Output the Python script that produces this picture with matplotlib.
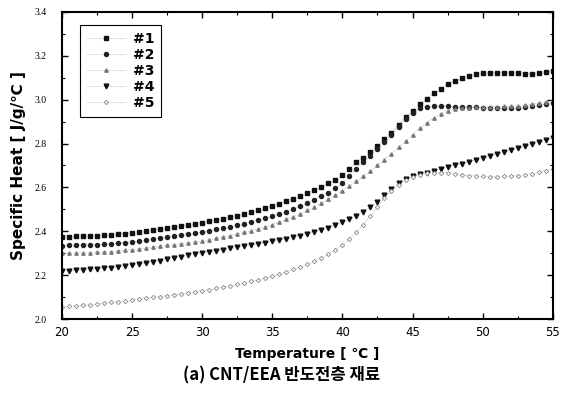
import numpy as np
import matplotlib
matplotlib.use('Agg')
import matplotlib.pyplot as plt
from matplotlib.ticker import MultipleLocator

# temperature grid, 0.5 C steps from 20 to 55
temp = np.arange(20.0, 55.01, 0.5)

s1 = [2.375, 2.376, 2.377, 2.378, 2.379, 2.380, 2.382, 2.384, 2.387, 2.390,
      2.394, 2.398, 2.402, 2.406, 2.410, 2.415, 2.420, 2.425, 2.430, 2.435,
      2.440, 2.446, 2.452, 2.458, 2.464, 2.470, 2.478, 2.486, 2.495, 2.505,
      2.515, 2.526, 2.537, 2.548, 2.560, 2.573, 2.587, 2.602, 2.618, 2.635,
      2.655, 2.685, 2.715, 2.735, 2.760, 2.790, 2.820, 2.850, 2.885, 2.920,
      2.950, 2.980, 3.005, 3.030, 3.050, 3.070, 3.085, 3.098, 3.108, 3.115,
      3.120, 3.122, 3.123, 3.123, 3.122, 3.120, 3.118, 3.118, 3.122, 3.126,
      3.130]
s2 = [2.335, 2.336, 2.337, 2.338, 2.339, 2.340, 2.342, 2.344, 2.346, 2.349,
      2.352, 2.356, 2.360, 2.364, 2.368, 2.372, 2.377, 2.382, 2.387, 2.392,
      2.397, 2.403, 2.409, 2.415, 2.421, 2.428, 2.435, 2.443, 2.451, 2.459,
      2.468, 2.478, 2.489, 2.501, 2.514, 2.528, 2.543, 2.559, 2.576, 2.596,
      2.620, 2.650, 2.685, 2.715, 2.745, 2.775, 2.805, 2.840, 2.875, 2.910,
      2.940, 2.960, 2.968, 2.970, 2.970, 2.969, 2.968, 2.967, 2.966, 2.965,
      2.963, 2.962, 2.961, 2.960, 2.960, 2.962, 2.965, 2.969, 2.974, 2.980,
      2.986]
s3 = [2.300, 2.300, 2.301, 2.302, 2.303, 2.304, 2.306, 2.308, 2.310, 2.313,
      2.316, 2.320, 2.324, 2.328, 2.332, 2.336, 2.340, 2.344, 2.348, 2.352,
      2.356, 2.362, 2.368, 2.374, 2.381, 2.388, 2.395, 2.403, 2.412, 2.421,
      2.431, 2.442, 2.454, 2.467, 2.480, 2.495, 2.511, 2.528, 2.546, 2.565,
      2.585, 2.606, 2.628, 2.651, 2.675, 2.700, 2.727, 2.754, 2.782, 2.810,
      2.840, 2.870, 2.895, 2.915, 2.935, 2.950, 2.958, 2.962, 2.964, 2.965,
      2.966, 2.967, 2.968, 2.969, 2.970, 2.972, 2.975, 2.979, 2.984, 2.990,
      2.997]
s4 = [2.220, 2.221, 2.223, 2.225, 2.227, 2.229, 2.232, 2.235, 2.238, 2.241,
      2.245, 2.250, 2.255, 2.260, 2.266, 2.272, 2.278, 2.284, 2.290, 2.296,
      2.302, 2.307, 2.312, 2.317, 2.322, 2.327, 2.332, 2.337, 2.342, 2.348,
      2.354, 2.360, 2.366, 2.373, 2.380, 2.388, 2.397, 2.406, 2.416, 2.428,
      2.441, 2.456, 2.472, 2.490, 2.510, 2.535, 2.565, 2.595, 2.620, 2.637,
      2.650, 2.660, 2.668, 2.676, 2.684, 2.692, 2.700, 2.708, 2.716, 2.724,
      2.733, 2.742, 2.751, 2.760, 2.769, 2.778, 2.787, 2.796, 2.806, 2.816,
      2.826]
s5 = [2.056, 2.058, 2.060, 2.063, 2.066, 2.069, 2.072, 2.076, 2.079, 2.083,
      2.087, 2.091, 2.095, 2.099, 2.103, 2.107, 2.111, 2.115, 2.120, 2.125,
      2.130, 2.135, 2.140, 2.146, 2.152, 2.158, 2.165, 2.172, 2.179, 2.187,
      2.196, 2.206, 2.216, 2.227, 2.238, 2.250, 2.263, 2.278, 2.295, 2.315,
      2.338, 2.365, 2.395, 2.430, 2.470, 2.510, 2.550, 2.585, 2.612, 2.632,
      2.647, 2.658, 2.665, 2.668, 2.668, 2.665, 2.661, 2.657, 2.654, 2.652,
      2.650, 2.649, 2.649, 2.650, 2.651, 2.654, 2.658, 2.663, 2.669, 2.677,
      2.686]

labels = ['#1', '#2', '#3', '#4', '#5']
series = [s1, s2, s3, s4, s5]
styles = [
    dict(marker='s', ms=2.7, mfc='#111111', mec='#111111'),
    dict(marker='o', ms=2.9, mfc='#222222', mec='#222222'),
    dict(marker='^', ms=2.4, mfc='#777777', mec='#777777'),
    dict(marker='v', ms=3.4, mfc='#111111', mec='#111111'),
    dict(marker='D', ms=2.2, mfc='white', mec='#888888', mew=0.6),
]

fig = plt.figure(figsize=(5.64, 3.94), dpi=100)
ax = fig.add_axes([0.110, 0.190, 0.870, 0.780])

for lab, ys, st in zip(labels, series, styles):
    ax.plot(temp, ys, linestyle=':', linewidth=0.5, color='#999999',
            label=lab, **st)

ax.set_xlim(20, 55)
ax.set_ylim(2.0, 3.4)
ax.xaxis.set_major_locator(MultipleLocator(5))
ax.xaxis.set_minor_locator(MultipleLocator(2.5))
ax.yaxis.set_major_locator(MultipleLocator(0.2))
ax.yaxis.set_minor_locator(MultipleLocator(0.1))
ax.tick_params(which='both', direction='in', top=True, right=True, color='black')
ax.tick_params(which='major', length=4, width=1)
ax.tick_params(which='minor', length=2, width=0.8)
ax.tick_params(axis='x', labelsize=8.5, pad=5)
ax.tick_params(axis='y', labelsize=7, pad=11)
for t in ax.get_yticklabels():
    t.set_family('Liberation Serif')
ax.yaxis.set_major_formatter(plt.FuncFormatter(lambda v, p: f'{v:.1f}'))
for sp in ax.spines.values():
    sp.set_linewidth(1.5)

ax.set_ylabel('Specific Heat [ J/g/\u2103 ]', fontsize=11, fontweight='bold',
              family=['DejaVu Sans', 'Noto Sans CJK KR'], labelpad=6)
ax.set_xlabel('Temperature [ \u2103 ]', fontsize=10, fontweight='bold',
              family=['DejaVu Sans', 'Noto Sans CJK KR'], labelpad=6)
fig.text(0.50, 0.025, '(a) CNT/EEA 반도전층 재료', ha='center', va='bottom',
         fontsize=12, fontweight='bold', family=['Noto Sans CJK KR', 'DejaVu Sans'])

leg = ax.legend(loc='upper left', bbox_to_anchor=(0.022, 0.98), fancybox=False,
                edgecolor='black', framealpha=1, handlelength=2.8,
                prop={'weight': 'bold', 'size': 10}, labelspacing=0.15,
                borderpad=0.5, handletextpad=0.5)
leg.get_frame().set_linewidth(0.8)

fig.savefig('out.png', dpi=100)
